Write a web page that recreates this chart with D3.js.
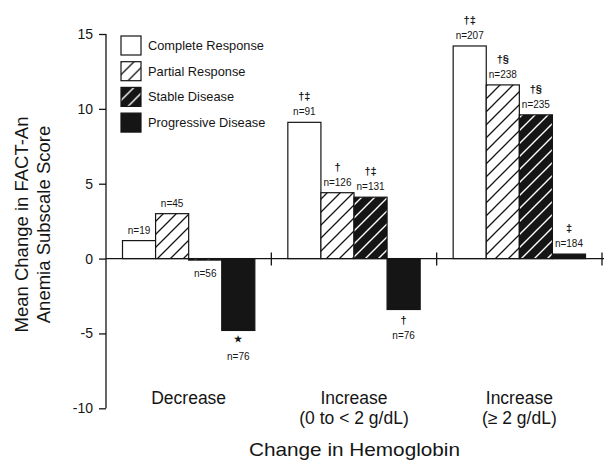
<!DOCTYPE html>
<html>
<head>
<meta charset="utf-8">
<script src="https://cdn.jsdelivr.net/npm/d3@7"></script>
<style>
  html, body { margin: 0; padding: 0; background: #fff; }
  svg { display: block; font-family: "Liberation Sans", Arial, Helvetica, sans-serif; }
</style>
</head>
<body>
<svg id="chart" width="604" height="460"></svg>
<script>
// Hemoglobin change groups (each label may wrap onto two lines)
const groups = ["Decrease", "Increase (0 to < 2 g/dL)", "Increase (≥ 2 g/dL)"];
const groupLines = [["Decrease"], ["Increase", "(0 to < 2 g/dL)"], ["Increase", "(≥ 2 g/dL)"]];

// Tumour response categories
const series = ["Complete Response", "Partial Response", "Stable Disease", "Progressive Disease"];

// Mean change in FACT-An anemia subscale score, one array per response category
const completeResponse   = [1.2, 9.1, 14.2];
const partialResponse    = [3.0, 4.4, 11.6];
const stableDisease      = [-0.1, 4.1, 9.6];
const progressiveDisease = [-4.8, -3.4, 0.3];

// Sample sizes
const nComplete    = [19, 91, 207];
const nPartial     = [45, 126, 238];
const nStable      = [56, 131, 235];
const nProgressive = [76, 76, 184];

// Significance markers
const sigComplete    = ["", "†‡", "†‡"];
const sigPartial     = ["", "†", "†§"];
const sigStable      = ["", "†‡", "†§"];
const sigProgressive = ["★", "†", "‡"];

const yTicks = [-10, -5, 0, 5, 10, 15];

const valuesBySeries = [completeResponse, partialResponse, stableDisease, progressiveDisease];
const nBySeries = [nComplete, nPartial, nStable, nProgressive];
const sigBySeries = [sigComplete, sigPartial, sigStable, sigProgressive];

const rows = [];
groups.forEach((g, gi) => {
  series.forEach((s, si) => {
    rows.push({ group: g, series: s, si, value: valuesBySeries[si][gi],
                n: nBySeries[si][gi], sig: sigBySeries[si][gi] });
  });
});

const svg = d3.select("#chart");
const ink = "#151515";

const x0 = d3.scaleBand().domain(groups).range([106, 602]).paddingInner(0).paddingOuter(0);
const x1 = d3.scaleBand().domain(series).range([16.5, x0.bandwidth() - 16.5]).padding(0);
const y = d3.scaleLinear().domain([-10, 15]).range([408.3, 34]);

// Fill patterns
const defs = svg.append("defs");
const p1 = defs.append("pattern").attr("id", "hatchLight")
  .attr("patternUnits", "userSpaceOnUse").attr("width", 13).attr("height", 13);
p1.append("rect").attr("width", 13).attr("height", 13).attr("fill", "#fff");
p1.append("path").attr("d", "M-2,15 L15,-2 M-3,3 L3,-3 M10,16 L16,10")
  .attr("stroke", ink).attr("stroke-width", 1.3);
const p2 = defs.append("pattern").attr("id", "hatchDark")
  .attr("patternUnits", "userSpaceOnUse").attr("width", 13).attr("height", 13);
p2.append("rect").attr("width", 13).attr("height", 13).attr("fill", ink);
p2.append("path").attr("d", "M-2,15 L15,-2 M-3,3 L3,-3 M10,16 L16,10")
  .attr("stroke", "#fff").attr("stroke-width", 1.4);

const fills = ["#fff", "url(#hatchLight)", "url(#hatchDark)", ink];

// Bars
const gBars = svg.append("g");
gBars.selectAll("rect").data(rows).join("rect")
  .attr("x", d => x0(d.group) + x1(d.series))
  .attr("width", x1.bandwidth())
  .attr("y", d => y(Math.max(0, d.value)))
  .attr("height", d => Math.abs(y(d.value) - y(0)))
  .attr("fill", d => fills[d.si])
  .attr("stroke", ink).attr("stroke-width", 1.2);

// Bar annotations
const gLab = svg.append("g").attr("fill", ink).attr("text-anchor", "middle");
rows.forEach(d => {
  const cx = x0(d.group) + x1(d.series) + x1.bandwidth() / 2;
  if (d.value >= 0) {
    const top = y(d.value);
    gLab.append("text").attr("x", cx).attr("y", top - 7)
      .attr("font-size", 10).text("n=" + d.n);
    if (d.sig) gLab.append("text").attr("x", cx).attr("y", top - 22)
      .attr("font-size", 11).attr("font-weight", "bold").text(d.sig);
  } else {
    const bot = y(d.value);
    if (d.sig) {
      gLab.append("text").attr("x", cx).attr("y", bot + (d.sig === "★" ? 12 : 15))
        .attr("font-size", d.sig === "★" ? 9 : 11).attr("font-weight", "bold").text(d.sig);
      gLab.append("text").attr("x", cx).attr("y", bot + 30)
        .attr("font-size", 10).text("n=" + d.n);
    } else {
      gLab.append("text").attr("x", cx).attr("y", bot + 17)
        .attr("font-size", 10).text("n=" + d.n);
    }
  }
});

// Y axis
const yAxis = svg.append("g").attr("transform", "translate(106,0)")
  .call(d3.axisLeft(y).tickValues(yTicks).tickSize(7).tickPadding(6).tickFormat(d => String(d)));
yAxis.select(".domain").attr("stroke", ink).attr("stroke-width", 1.3).attr("d", `M0,${y(15)}V${y(-10)}`);
yAxis.selectAll(".tick line").attr("stroke", ink).attr("stroke-width", 1.3);
yAxis.selectAll(".tick text").attr("fill", ink).attr("font-size", 14)
  .attr("font-family", "'Liberation Sans', Arial, sans-serif");

// Zero line with group separators
svg.append("line").attr("x1", 106).attr("x2", 604).attr("y1", y(0)).attr("y2", y(0))
  .attr("stroke", ink).attr("stroke-width", 1.3);
svg.append("g").selectAll("line").data(groups).join("line")
  .attr("x1", d => x0(d) + x0.bandwidth()).attr("x2", d => x0(d) + x0.bandwidth())
  .attr("y1", y(0) - 6).attr("y2", y(0) + 7)
  .attr("stroke", ink).attr("stroke-width", 1.3);

// Group labels
const gCat = svg.append("g").attr("fill", ink).attr("text-anchor", "middle").attr("font-size", 17.5);
groups.forEach((g, gi) => {
  groupLines[gi].forEach((line, li) => {
    gCat.append("text").attr("x", x0(g) + x0.bandwidth() / 2).attr("y", 404 + li * 20).text(line);
  });
});

// Axis titles
svg.append("text").attr("x", 354.5).attr("y", 456).attr("text-anchor", "middle")
  .attr("font-size", 19).attr("fill", ink)
  .attr("textLength", 211).attr("lengthAdjust", "spacingAndGlyphs")
  .text("Change in Hemoglobin");
const yt = svg.append("g").attr("transform", "translate(0,224.5) rotate(-90)")
  .attr("text-anchor", "middle").attr("font-size", 18.5).attr("fill", ink);
yt.append("text").attr("x", 0).attr("y", 27.5).text("Mean Change in FACT-An");
yt.append("text").attr("x", 0).attr("y", 50).text("Anemia Subscale Score");

// Legend
const leg = svg.append("g").attr("transform", "translate(121,36)");
series.forEach((s, i) => {
  const row = leg.append("g").attr("transform", `translate(0,${i * 25.7})`);
  row.append("rect").attr("width", 20).attr("height", 19)
    .attr("fill", fills[i]).attr("stroke", ink).attr("stroke-width", 1.2);
  row.append("text").attr("x", 27).attr("y", 14).attr("font-size", 12.8)
    .attr("fill", ink).text(s);
});
</script>
</body>
</html>
